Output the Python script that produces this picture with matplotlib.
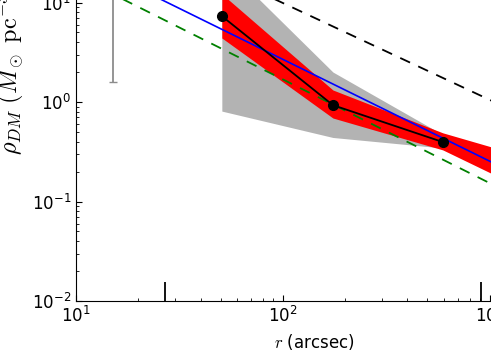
import matplotlib
matplotlib.use('Agg')
import matplotlib.pyplot as plt

plt.rcParams['mathtext.fontset'] = 'cm'
plt.rcParams['axes.unicode_minus'] = False
plt.rcParams['font.size'] = 12

# measured density points (black) and their bands
r_pts = [50.7, 174.6, 593.0]
rho_pts = [7.3, 0.93, 0.396]

# red band (extends past the last point)
r_red = [50.7, 174.6, 593.0, 1500.0]
red_lo = [4.4, 0.69, 0.33, 0.13]
red_hi = [12.2, 1.32, 0.49, 0.28]

# grey band
r_grey = [50.7, 174.6, 593.0]
grey_lo = [0.81, 0.44, 0.345]
grey_hi = [25.2, 2.0, 0.47]

# model lines (end points of power laws)
r_line = [10.0, 2000.0]
blue_rho = [28.3, 0.125]
green_rho = [18.6, 0.0743]
black_dash_rho = [93.0, 0.535]

# typical uncertainty bar
err_r = [15.1]
err_rho = [10.0]
err_lo = [10.0 - 1.59]
err_hi = [60.0]

# radii marked on the x axis
r_marks = [26.9, 912.0]
mark_top = 0.0155

fig = plt.figure(figsize=(4.91, 3.51), dpi=100)
ax = fig.add_axes([76 / 491, 50 / 351, 476 / 491, 398 / 351])

ax.fill_between(r_grey, grey_lo, grey_hi, color='0.7', lw=0, zorder=1)
ax.fill_between(r_red, red_lo, red_hi, color='red', lw=0, zorder=2)
ax.plot(r_line, black_dash_rho, 'k--', lw=1.3, dashes=(6, 5), zorder=3)
ax.plot(r_line, green_rho, '--', color='green', lw=1.3, dashes=(6, 5), zorder=3)
ax.plot(r_line, blue_rho, '-', color='blue', lw=1.2, zorder=4)
ax.plot(r_pts, rho_pts, 'k-o', lw=1.3, ms=7, zorder=5)
ax.errorbar(err_r, err_rho, yerr=[err_lo, err_hi], fmt='none', ecolor='0.55',
            elinewidth=1.3, capsize=3, zorder=3)
ax.vlines(r_marks, 0.01, mark_top, color='k', lw=1.3, zorder=6)

ax.set_xscale('log')
ax.set_yscale('log')
ax.set_xlim(10, 2000)
ax.set_ylim(1e-2, 1e2)
ax.tick_params(which='both', direction='in', top=True, right=True)
ax.tick_params(which='major', length=4)
ax.tick_params(which='minor', length=2)

ax.set_xlabel(r'$r$ (arcsec)', fontsize=12)
ax.set_ylabel(r'$\rho_{DM}\ (M_\odot\ \mathrm{pc}^{-3})$', fontsize=17.5)
ax.yaxis.set_label_coords(-0.105, 0.58)

fig.savefig('out.png', dpi=100)
